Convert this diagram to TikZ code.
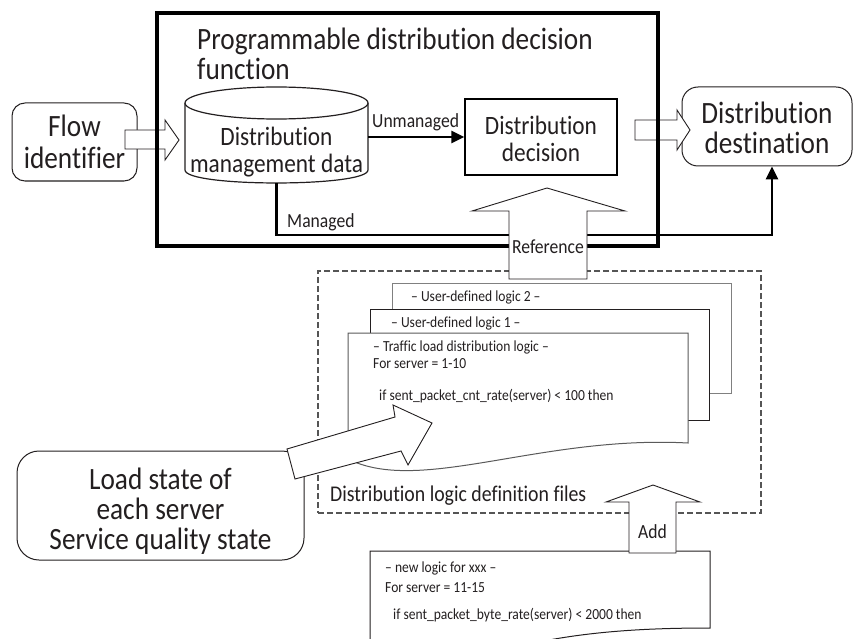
\documentclass[tikz,border=0pt]{standalone}
\usepackage{fontspec}
\setmainfont{Carlito}[FakeStretch=0.88, Ligatures=NoCommon]
\usetikzlibrary{arrows.meta}
\definecolor{ink}{HTML}{231F20}
\definecolor{pagegray}{HTML}{808080}
\definecolor{dashgray}{HTML}{555555}
\tikzset{
  bigtxt/.style={font=\fontsize{31}{30}\selectfont, text=ink, align=center},
  midtxt/.style={font=\fontsize{26.5}{27}\selectfont, text=ink, align=center},
  lbltxt/.style={font=\fontsize{20}{22}\selectfont, text=ink, inner sep=0},
  codetxt/.style={font=\fontsize{15.4}{17}\selectfont, text=ink, anchor=base west, inner sep=0},
  roundbox/.style={draw=ink, line width=1pt, fill=white, inner sep=0},
  plainbox/.style={draw=black, line width=1.3pt, fill=white, inner sep=0},
  blockarrow/.style={draw=ink, line width=0.9pt, fill=white, line join=miter},
  conn/.style={draw=black, line width=2.6pt, -{Triangle[length=13pt,width=12pt]}},
  pagebox/.style={line width=1pt, fill=white},
}
\begin{document}
\begin{tikzpicture}[x=1pt,y=-1pt]
\useasboundingbox[fill=white] (0,0) rectangle (853,639);

% ---- definition files area ----
\node[draw=dashgray, line width=1.5pt, dash pattern=on 6pt off 3pt,
      minimum width=443, minimum height=242, inner sep=0] (files) at (539.5,392) {};
\node[lbltxt, font=\fontsize{22.5}{24}\selectfont, anchor=base west] (fileslbl) at (330,501)
  {Distribution logic definition files};

% stacked logic files, back to front
\draw[pagebox, draw=pagegray] (392,283) rectangle (731,393);
\node[codetxt] (ud2) at (411,301) {– User-defined logic 2 –};
\draw[pagebox, draw=ink] (370,309) rectangle (709,420);
\node[codetxt] (ud1) at (391,327) {– User-defined logic 1 –};
\draw[pagebox, draw=pagegray!70!black] (348,459) -- (348,333) -- (688,333) -- (688,443)
  .. controls (540,435) and (420,495) .. (348,459);
\node[codetxt] (tl1) at (373,351) {– Traffic load distribution logic –};
\node[codetxt] (tl2) at (373,368) {For server = 1-10};
\node[codetxt] (tl3) at (379,400) {if sent\_packet\_cnt\_rate(server) < 100 then};

% ---- programmable distribution decision function ----
\node[roundbox, bigtxt, font=\fontsize{31}{32}\selectfont, rounded corners=13pt,
      minimum width=125, minimum height=78] (flow) at (74.5,142) {Flow\\identifier};
\node[roundbox, rounded corners=16pt, minimum width=170, minimum height=79] (dst)
  at (767,126.5) {};
\node[bigtxt, inner sep=0] (dsttxt) at (767,128) {Distribution\\destination};

\draw[blockarrow] (125,130) -- (165,130) -- (165,120) -- (179,140) -- (165,160)
  -- (165,149) -- (125,149) -- cycle;
\draw[blockarrow] (635,120) -- (677,120) -- (677,110) -- (690,130) -- (677,150)
  -- (677,140) -- (635,140) -- cycle;

\node[draw=black, line width=3.5pt, minimum width=501, minimum height=233, inner sep=0] (fn)
  at (407.5,129.5) {};
\node[bigtxt, align=left, anchor=base west, inner sep=0] (fntitle) at (197,80)
  {Programmable distribution decision\\function};

% database cylinder
\path[draw=ink, line width=1.2pt, fill=white] (185,103) -- (185,170)
  .. controls (185,187.3) and (368,187.3) .. (368,170) -- (368,103);
\draw[draw=ink, line width=1.2pt, fill=white] (276.5,103) ellipse [x radius=91.5, y radius=16];
\node[midtxt, inner sep=0] (cyl) at (276.5,152) {Distribution\\management data};
\coordinate (cylport) at (368,137);
\coordinate (cylbot) at (276.5,183);

\node[plainbox, minimum width=152, minimum height=76] (dec) at (541,137) {};
\node[midtxt, inner sep=0] (dectxt) at (541,139) {Distribution\\decision};

\draw[conn] (cylport) -- (dec.west);
\node[lbltxt, anchor=base west] (unm) at (372,128) {Unmanaged};

\coordinate (mgdturn) at (772,235);
\draw[conn] (cylbot) |- (mgdturn) -- (mgdturn |- dst.south);
\node[lbltxt, anchor=base west] (mgd) at (287,227) {Managed};

% ---- inputs ----
\node[roundbox, rounded corners=22pt, minimum width=287, minimum height=109] (load)
  at (160.5,505.5) {};
\node[bigtxt, inner sep=0] (loadtxt) at (160.5,511) {Load state of\\each server\\Service quality state};
\draw[blockarrow] (287,449) -- (395,417) -- (393,405) -- (432,423) -- (408,465)
  -- (401,451) -- (295,479) -- cycle;

% new logic file
\draw[pagebox, draw=ink] (370,650) -- (370,551) -- (710,551) -- (710,628)
  .. controls (640,628) and (580,632) .. (520,646);
\node[codetxt] (nl1) at (385,572) {– new logic for xxx –};
\node[codetxt] (nl2) at (385,592) {For server = 11-15};
\node[codetxt] (nl3) at (393,619) {if sent\_packet\_byte\_rate(server) < 2000 then};

\draw[blockarrow] (629,553) -- (629,502) -- (606,502) -- (653,485) -- (700,502)
  -- (676,502) -- (676,553) -- cycle;
\node[lbltxt, anchor=base] (addlbl) at (652.5,538) {Add};

% reference arrow across the function frame
\draw[blockarrow] (509,279) -- (509,211) -- (472,211) -- (547,188) -- (625,211)
  -- (587,211) -- (587,279) -- cycle;
\node[lbltxt, anchor=base] (reflbl) at (548,253) {Reference};
\end{tikzpicture}
\end{document}
